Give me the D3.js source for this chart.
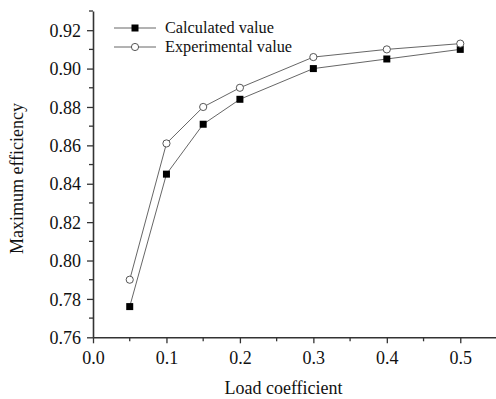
<!DOCTYPE html>
<html>
<head>
<meta charset="utf-8">
<script src="https://cdn.jsdelivr.net/npm/d3@7"></script>
<style>
  body { margin: 0; background: #fff; }
  svg text { font-family: "Liberation Serif", "Times New Roman", serif; }
</style>
</head>
<body>
<div id="chart"></div>
<script>
// load coefficient values
const loads = [0.05, 0.1, 0.15, 0.2, 0.3, 0.4, 0.5];
const calculated = [0.776, 0.845, 0.871, 0.884, 0.900, 0.905, 0.910];
const experimental = [0.790, 0.861, 0.880, 0.890, 0.906, 0.910, 0.913];
const xTicks = [0, 0.1, 0.2, 0.3, 0.4, 0.5];
const yTicks = [0.76, 0.78, 0.80, 0.82, 0.84, 0.86, 0.88, 0.90, 0.92];
const seriesNames = ['Calculated value', 'Experimental value'];

const width = 496, height = 399;
const margin = {top: 11, right: 0, bottom: 62, left: 93};
const serif = '"Liberation Serif", "Times New Roman", serif';

const svg = d3.select('#chart').append('svg')
  .attr('width', width)
  .attr('height', height);

const x = d3.scaleLinear().domain([0, 0.55]).range([margin.left, margin.left + 404]);
const y = d3.scaleLinear().domain([0.76, 0.93]).range([height - margin.bottom + 0.3, margin.top]);

const axisColor = '#333';

// minor ticks
const xMinor = d3.range(0.05, 0.55, 0.1);
const yMinor = d3.range(0.77, 0.93, 0.02);

const gx = svg.append('g')
  .attr('transform', `translate(0,${y(0.76)})`)
  .call(d3.axisBottom(x).tickValues(xTicks).tickFormat(d3.format('.1f')).tickSize(6).tickSizeOuter(0));
gx.append('g').selectAll('line')
  .data(xMinor)
  .enter()
  .append('line')
  .attr('x1', d => x(d)).attr('x2', d => x(d))
  .attr('y1', 0).attr('y2', 4);

const gy = svg.append('g')
  .attr('transform', `translate(${x(0)},0)`)
  .call(d3.axisLeft(y).tickValues(yTicks).tickFormat(d3.format('.2f')).tickSize(6).tickSizeOuter(0));
gy.append('g').selectAll('line')
  .data(yMinor)
  .enter()
  .append('line')
  .attr('y1', d => y(d)).attr('y2', d => y(d))
  .attr('x1', 0).attr('x2', -4);

[gx, gy].forEach(g => {
  g.attr('font-family', serif).attr('font-size', 18);
  g.select('.domain').attr('stroke', axisColor).attr('stroke-width', 1.6);
  g.selectAll('line').attr('stroke', axisColor).attr('stroke-width', 1.3);
  g.selectAll('text').attr('fill', '#111');
});
gx.selectAll('.tick text').attr('dy', '1.0em');
gy.selectAll('.tick text').attr('x', -12).attr('dy', '0.34em');

// axis titles
svg.append('text')
  .attr('x', 283.5)
  .attr('y', 394)
  .attr('text-anchor', 'middle')
  .attr('font-family', serif)
  .attr('font-size', 18)
  .attr('fill', '#111')
  .text('Load coefficient');

svg.append('text')
  .attr('transform', 'translate(23,178.5) rotate(-90)')
  .attr('text-anchor', 'middle')
  .attr('font-family', serif)
  .attr('font-size', 18)
  .attr('fill', '#111')
  .text('Maximum efficiency');

// lines
const line = d3.line()
  .x((d, i) => x(loads[i]))
  .y(d => y(d));

const lineColor = '#555';

[experimental, calculated].forEach(series => {
  svg.append('path')
    .datum(series)
    .attr('fill', 'none')
    .attr('stroke', lineColor)
    .attr('stroke-width', 0.9)
    .attr('d', line);
});

// markers
svg.append('g').selectAll('rect')
  .data(calculated)
  .enter()
  .append('rect')
  .attr('x', (d, i) => x(loads[i]) - 3.5)
  .attr('y', d => y(d) - 3.5)
  .attr('width', 7)
  .attr('height', 7)
  .attr('fill', '#000');

svg.append('g').selectAll('circle')
  .data(experimental)
  .enter()
  .append('circle')
  .attr('cx', (d, i) => x(loads[i]))
  .attr('cy', d => y(d))
  .attr('r', 3.6)
  .attr('fill', '#fff')
  .attr('stroke', '#444')
  .attr('stroke-width', 0.9);

// legend
const legend = svg.append('g').attr('transform', 'translate(114,28)');
seriesNames.forEach((name, i) => {
  const row = legend.append('g').attr('transform', `translate(0,${i * 19})`);
  row.append('line')
    .attr('x1', 0).attr('x2', 42)
    .attr('stroke', lineColor).attr('stroke-width', 0.9);
  if (i === 0) {
    row.append('rect').attr('x', 21 - 3.5).attr('y', -3.5)
      .attr('width', 7).attr('height', 7).attr('fill', '#000');
  } else {
    row.append('circle').attr('cx', 21).attr('cy', 0).attr('r', 3.6)
      .attr('fill', '#fff').attr('stroke', '#444').attr('stroke-width', 0.9);
  }
  row.append('text')
    .attr('x', 51)
    .attr('y', 0)
    .attr('dy', '0.33em')
    .attr('font-family', serif)
    .attr('font-size', 16.3)
    .attr('fill', '#111')
    .text(name);
});
</script>
</body>
</html>
